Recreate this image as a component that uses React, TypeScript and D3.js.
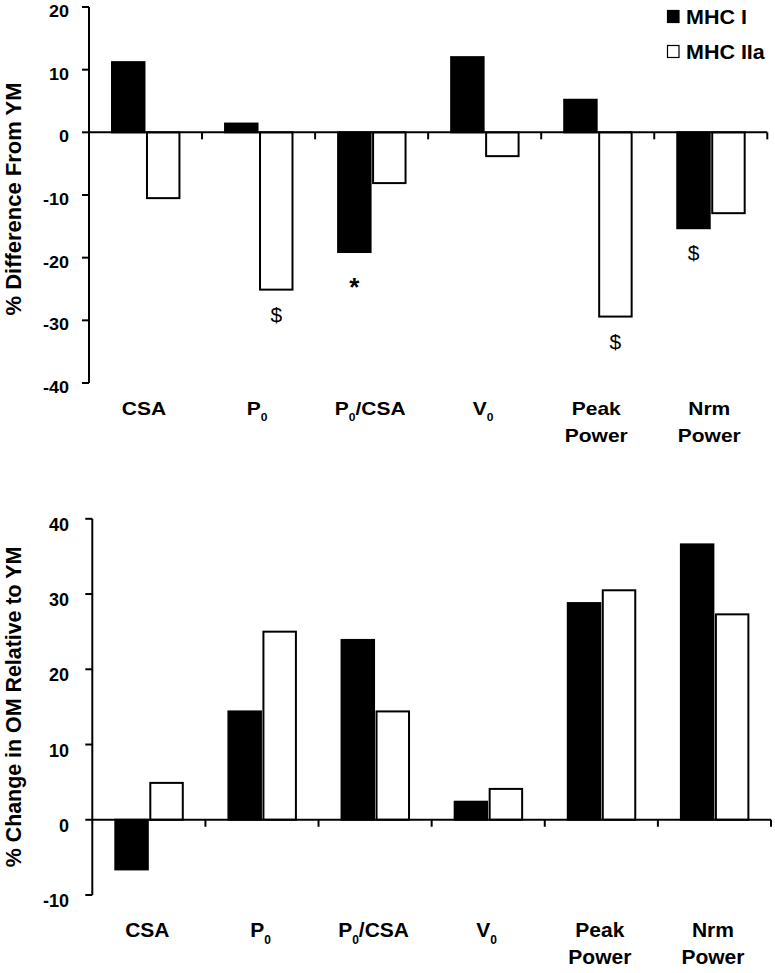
import React from "react";
import * as d3 from "d3";

const categories = ["CSA", "P_0", "P_0/CSA", "V_0", "Peak\nPower", "Nrm\nPower"];
const seriesNames = ["MHC I", "MHC IIa"];
const seriesFill = ["#000000", "#ffffff"];

const topMHCI = [11.2, 1.4, -19.1, 12.0, 5.2, -15.3];
const topMHCIIa = [-10.5, -25.1, -8.1, -3.8, -29.4, -12.9];
const topTicks = [20, 10, 0, -10, -20, -30, -40];

const bottomMHCI = [-6.6, 14.4, 23.9, 2.4, 28.8, 36.6];
const bottomMHCIIa = [4.9, 25.0, 14.4, 4.1, 30.5, 27.3];
const bottomTicks = [40, 30, 20, 10, 0, -10];

const topMarks = [
  { cat: "P_0", series: "MHC IIa", sym: "$" },
  { cat: "P_0/CSA", series: "MHC I", sym: "*" },
  { cat: "Peak\nPower", series: "MHC IIa", sym: "$" },
  { cat: "Nrm\nPower", series: "MHC I", sym: "$" },
];

const FONT = "'Liberation Sans', Arial, Helvetica, sans-serif";

function Label({ text, x, y, sy }: { text: string; x: number; y: number; sy: number }) {
  const lines = text.split("\n");
  return (
    <g transform={`translate(${x},${y}) scale(1,${sy})`}>
      <text x={0} y={0} textAnchor="middle" fontFamily={FONT} fontWeight="bold" fontSize={21} fill="#000">
        {lines.map((line, li) => {
          const parts = line.split("_0");
          const out: any[] = [];
          parts.forEach((p, pi) => {
            if (pi > 0) {
              out.push(
                <tspan key={`s${li}-${pi}`} fontSize={12} dy={7}>0</tspan>
              );
            }
            if (p.length > 0) {
              out.push(
                <tspan
                  key={`t${li}-${pi}`}
                  x={pi === 0 ? 0 : undefined}
                  dy={pi === 0 ? (li === 0 ? 0 : 27 / sy) : -7}
                >
                  {p}
                </tspan>
              );
            }
          });
          return out;
        })}
      </text>
    </g>
  );
}

function Panel({
  axisX,
  axisRight,
  yTop,
  yBottom,
  domain,
  ticks,
  s1,
  s2,
  title,
  titleY,
  titleSize,
  labelY,
  tickDy,
  sy,
  marks,
}: any) {
  const y = d3.scaleLinear().domain(domain).range([yBottom, yTop]);
  const x = d3.scaleBand<string>().domain(categories).range([axisX, axisRight]).paddingInner(0).paddingOuter(0);
  const bw = x.bandwidth();
  const inner = d3
    .scaleBand<string>()
    .domain(seriesNames)
    .range([bw * 0.2035, bw * 0.8])
    .paddingInner(0.0714);
  const zero = y(0);
  const data = [s1, s2];
  return (
    <g>
      {categories.map((c, ci) =>
        seriesNames.map((s, si) => {
          const v = data[si][ci];
          const x0 = (x(c) as number) + (inner(s) as number);
          return (
            <rect
              key={c + s}
              x={x0}
              y={Math.min(y(v), zero)}
              width={inner.bandwidth()}
              height={Math.abs(y(v) - zero)}
              fill={seriesFill[si]}
              stroke="#000"
              strokeWidth={2}
            />
          );
        })
      )}
      <line x1={axisX} x2={axisX} y1={y(domain[1])} y2={y(domain[0])} stroke="#000" strokeWidth={2} />
      {ticks.map((t: number) => (
        <g key={t}>
          <line x1={axisX - 7} x2={axisX} y1={y(t)} y2={y(t)} stroke="#000" strokeWidth={2} />
          <g transform={`translate(69,${y(t) + tickDy}) scale(1,${sy})`}>
            <text x={0} y={0} textAnchor="end" fontFamily={FONT} fontWeight="bold" fontSize={18} fill="#000">
              {t}
            </text>
          </g>
        </g>
      ))}
      <line x1={axisX} x2={axisRight} y1={zero} y2={zero} stroke="#000" strokeWidth={2} />
      {categories.map((c) => (
        <line
          key={"t" + c}
          x1={(x(c) as number) + bw}
          x2={(x(c) as number) + bw}
          y1={zero}
          y2={zero + 7}
          stroke="#000"
          strokeWidth={2}
        />
      ))}
      {categories.map((c) => (
        <Label key={"l" + c} text={c} x={(x(c) as number) + bw / 2 - 1.5} y={labelY} sy={sy} />
      ))}
      {marks.map((m: any, i: number) => {
        const ci = categories.indexOf(m.cat);
        const si = seriesNames.indexOf(m.series);
        const v = data[si][ci];
        const cx = (x(m.cat) as number) + (inner(m.series) as number) + inner.bandwidth() / 2;
        const isStar = m.sym === "*";
        return (
          <text
            key={"m" + i}
            x={cx}
            y={y(v) + (isStar ? 44 : 32)}
            textAnchor="middle"
            fontFamily={FONT}
            fontWeight={isStar ? "bold" : "normal"}
            fontSize={isStar ? 26 : 21}
            fill="#000"
          >
            {m.sym}
          </text>
        );
      })}
      <text
        transform={`translate(21,${titleY}) rotate(-90)`}
        textAnchor="middle"
        fontFamily={FONT}
        fontWeight="bold"
        fontSize={titleSize}
        fill="#000"
      >
        {title}
      </text>
    </g>
  );
}

export default function App() {
  return (
    <div style={{ position: "absolute", left: 0, top: 0 }}>
      <svg width={775} height={973} style={{ display: "block", background: "#fff" }}>
        <rect x={0} y={0} width={775} height={973} fill="#fff" />
        <Panel
          axisX={89}
          axisRight={767.3}
          yTop={7}
          yBottom={383}
          domain={[-40, 20]}
          ticks={topTicks}
          s1={topMHCI}
          s2={topMHCIIa}
          title="% Difference From YM"
          titleY={199}
          titleSize={22}
          labelY={415}
          tickDy={10}
          sy={0.87}
          marks={topMarks}
        />
        <Panel
          axisX={92.3}
          axisRight={771}
          yTop={518.8}
          yBottom={895}
          domain={[-10, 40]}
          ticks={bottomTicks}
          s1={bottomMHCI}
          s2={bottomMHCIIa}
          title="% Change in OM Relative to YM"
          titleY={707}
          titleSize={21.4}
          labelY={937}
          tickDy={12}
          sy={1}
          marks={[]}
        />
        {seriesNames.map((s, i) => (
          <g key={s}>
            <rect
              x={667.5}
              y={10.5 + i * 35}
              width={11.5}
              height={12}
              fill={seriesFill[i]}
              stroke="#000"
              strokeWidth={1.2}
            />
            <g transform={`translate(686,${24 + i * 35}) scale(1,0.9)`}>
              <text x={0} y={0} fontFamily={FONT} fontWeight="bold" fontSize={21.5} fill="#000">
                {s}
              </text>
            </g>
          </g>
        ))}
      </svg>
    </div>
  );
}
